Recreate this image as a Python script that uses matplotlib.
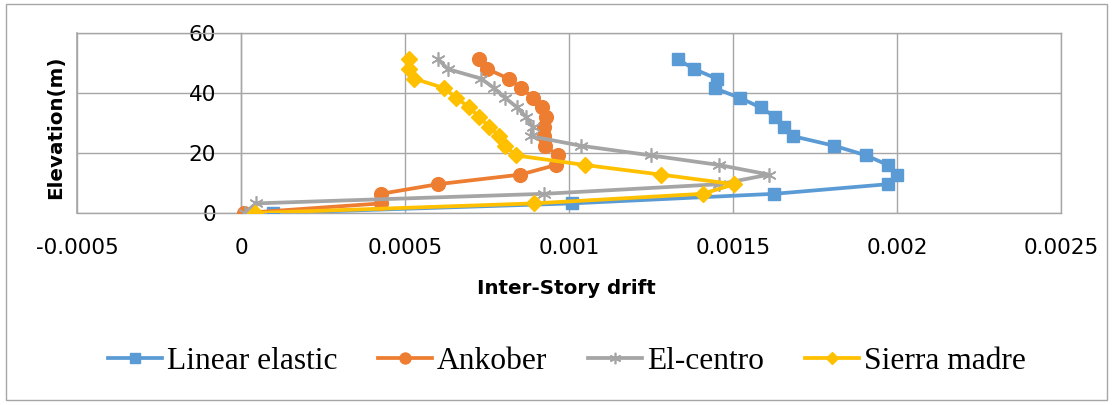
import matplotlib
matplotlib.use("Agg")
import matplotlib.pyplot as plt
from matplotlib.patches import Rectangle

# Storey elevations (m)
elevation = [0, 3.2, 6.4, 9.6, 12.8, 16.0, 19.2, 22.4, 25.6, 28.8,
             32.0, 35.2, 38.4, 41.6, 44.8, 48.0, 51.2]

# Inter-storey drift ratios per record
linear_elastic = [0.000098, 0.001009, 0.001626, 0.001972, 0.002000, 0.001972,
                  0.001906, 0.001809, 0.001683, 0.001657, 0.001629, 0.001584,
                  0.001520, 0.001444, 0.001450, 0.001381, 0.001332]
ankober = [0.000010, 0.000427, 0.000427, 0.000600, 0.000852, 0.000960,
           0.000966, 0.000927, 0.000925, 0.000925, 0.000930, 0.000919,
           0.000891, 0.000855, 0.000816, 0.000750, 0.000725]
el_centro = [0.000012, 0.000046, 0.000925, 0.001458, 0.001610, 0.001458,
             0.001250, 0.001037, 0.000884, 0.000889, 0.000869, 0.000842,
             0.000805, 0.000772, 0.000732, 0.000630, 0.000602]
sierra_madre = [0.000043, 0.000894, 0.001408, 0.001504, 0.001280, 0.001049,
                0.000838, 0.000805, 0.000788, 0.000757, 0.000725, 0.000696,
                0.000656, 0.000620, 0.000528, 0.000511, 0.000511]

x_ticks = [-0.0005, 0, 0.0005, 0.001, 0.0015, 0.002, 0.0025]
x_tick_labels = ["-0.0005", "0", "0.0005", "0.001", "0.0015", "0.002", "0.0025"]
y_ticks = [0, 20, 40, 60]

W, H = 1113, 405
fig = plt.figure(figsize=(W / 100, H / 100), dpi=100)
ax = fig.add_axes([77 / W, 1 - 213 / H, (1061 - 77) / W, (213 - 33) / H])

grid_c = "#A6A6A6"
lw = 2.7
ms = 9.3

ax.plot(linear_elastic, elevation, color="#5B9BD5", lw=lw, marker="s",
        ms=ms, label="Linear elastic", zorder=3)
ax.plot(ankober, elevation, color="#ED7D31", lw=lw, marker="o",
        ms=ms + 0.6, label="Ankober", zorder=4)
ax.plot(el_centro, elevation, color="#A5A5A5", lw=lw, marker=(6, 2, 0),
        ms=ms + 1, mew=1.2, label="El-centro", zorder=5)
ax.plot(sierra_madre, elevation, color="#FFC000", lw=lw, marker="D",
        ms=ms - 1.5, label="Sierra madre", zorder=6)

ax.set_xlim(-0.0005, 0.0025)
ax.set_ylim(0, 60)
ax.set_xticks(x_ticks)
ax.set_xticklabels(x_tick_labels)
ax.set_yticks(y_ticks)

ax.grid(True, color=grid_c, lw=1.0, zorder=0)
ax.set_axisbelow(True)

# vertical axis crosses at x = 0
ax.spines["left"].set_position(("data", 0))
for s in ax.spines.values():
    s.set_color(grid_c)
    s.set_linewidth(1.0)
ax.axvline(-0.0005, color=grid_c, lw=1.2, clip_on=False, zorder=0)

ax.tick_params(axis="both", length=0, labelsize=15.5, labelcolor="black")
ax.tick_params(axis="x", pad=18)
ax.tick_params(axis="y", pad=18)

ax.set_xlabel("Inter-Story drift", fontsize=14.3, fontweight="bold",
              va="center")
ax.xaxis.set_label_coords((566 - 77) / (1061 - 77), (213 - 289) / 180)
ax.set_ylabel("Elevation(m)", fontsize=14.3, fontweight="bold",
              ha="center", va="center")
ax.yaxis.set_label_coords((56 - 77) / (1061 - 77), (213 - 127) / 180)

handles, labels = ax.get_legend_handles_labels()
fig.legend(handles, labels, loc="center", ncol=4,
           bbox_to_anchor=(567 / W, 1 - 361 / H), frameon=False,
           prop={"family": "Liberation Serif", "size": 22.7},
           handlelength=1.7, handletextpad=0.16, columnspacing=1.3,
           markerscale=0.8)

fig.patches.append(Rectangle((6 / W, 1 - 400 / H), (1107 - 6) / W,
                             (400 - 4) / H, transform=fig.transFigure,
                             fill=False, edgecolor="#A6A6A6", lw=1.0))

fig.savefig("out.png", dpi=100)
